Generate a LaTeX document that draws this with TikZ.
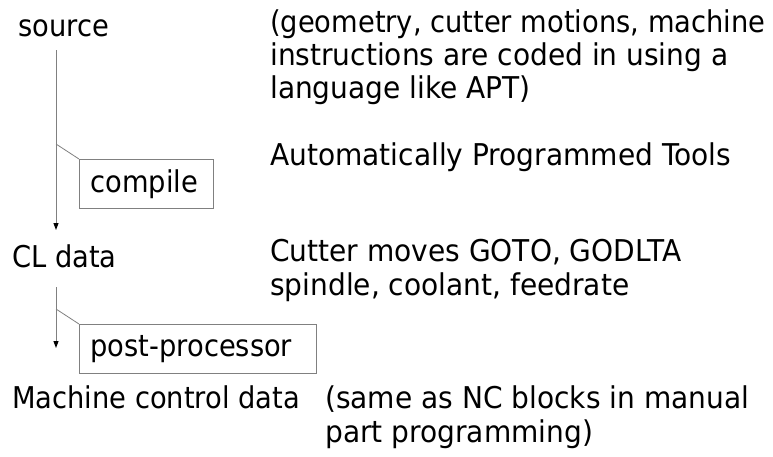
\documentclass[tikz,border=0pt]{standalone}
\usepackage{fontspec}
\setmainfont{DejaVu Sans}[FakeStretch=0.91]
\newfontfamily\widefont{DejaVu Sans}[FakeStretch=0.935]
\usetikzlibrary{arrows.meta}
\definecolor{linegray}{HTML}{808080}
\tikzset{
  txt/.style={anchor=base west, inner sep=0pt, font=\fontsize{30}{34}\selectfont},
  desc/.style={anchor=base west, inner sep=0pt, font=\widefont\fontsize{30}{34}\selectfont},
  procbox/.style={draw=linegray, line width=1pt, anchor=north west, inner xsep=11pt, inner ysep=0pt,
    minimum height=49pt, align=left, font=\fontsize{30}{34}\selectfont},
  flow/.style={draw=linegray, line width=1pt, -{Triangle[length=7pt,width=5pt,color=black]}},
  tie/.style={draw=linegray, line width=0.8pt}
}
\begin{document}
\begin{tikzpicture}[x=1pt,y=-1pt]
\useasboundingbox (0,0) rectangle (773,456);
% left column
\node[txt] (source) at (18,36) {source};
\node[txt] (cl) at (12,267) {CL data};
\node[txt] (mcd) at (12,408) {Machine control data};
% boxes
\node[procbox, text width=112pt] (compile) at (79,159) {compile};
\node[procbox, text width=215pt] (post) at (79,324) {post-processor};
% connectors
\coordinate (s1) at (56,50);
\coordinate (t1) at (56,230);
\coordinate (j1) at (56,144);
\coordinate (s2) at (56,287);
\coordinate (t2) at (56,348);
\coordinate (j2) at (56,309);
\draw[flow] (s1) -- (t1);
\draw[flow] (s2) -- (t2);
\draw[tie] (j1) -- (compile.north west);
\draw[tie] (j2) -- (post.north west);
% right column
\node[txt] (d1) at (270,32) {(geometry, cutter motions, machine};
\node[desc] (d2) at (270,65) {instructions are coded in using a};
\node[desc] (d3) at (270,98) {language like APT)};
\node[desc] (apt) at (270,165) {Automatically Programmed Tools};
\node[desc] (c1) at (270,261) {Cutter moves GOTO, GODLTA};
\node[desc] (c2) at (270,295) {spindle, coolant, feedrate};
\node[desc] (m1) at (325,408) {(same as NC blocks in manual};
\node[desc] (m2) at (325,442) {part programming)};
\end{tikzpicture}
\end{document}
